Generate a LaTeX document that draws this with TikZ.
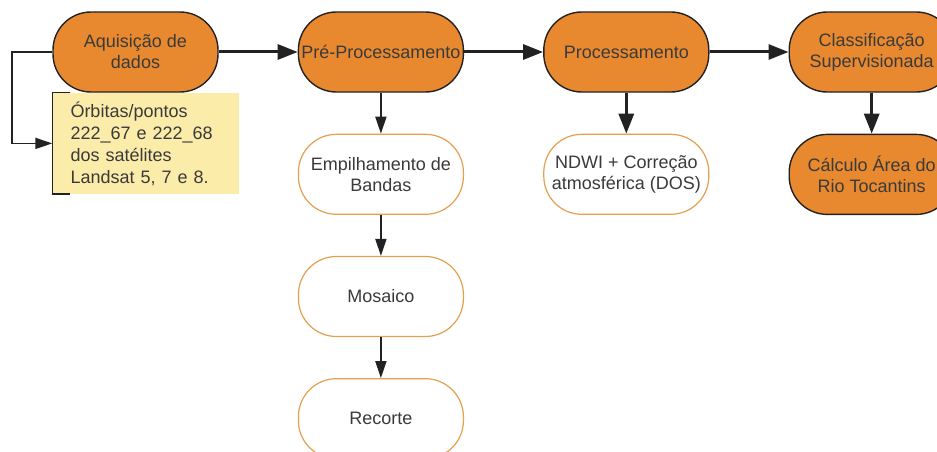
\documentclass[tikz,border=0pt]{standalone}
\usepackage{fontspec}
\setmainfont{Liberation Sans}
\usepackage{xcolor}
\usetikzlibrary{arrows.meta, positioning}

\definecolor{fillorange}{RGB}{232,137,48}
\definecolor{borderorange}{RGB}{228,160,80}
\definecolor{noteyellow}{RGB}{252,236,170}
\definecolor{linedark}{RGB}{34,34,34}
\definecolor{textgray}{RGB}{58,58,58}

\begin{document}
\begin{tikzpicture}[
  x=1pt, y=-1pt,
  node distance=41pt and 79pt,
  every node/.style={font=\fontsize{18}{21}\selectfont, text=textgray},
  stage/.style={rectangle, rounded corners=38pt, draw=linedark, line width=1.4pt,
                minimum width=165pt, minimum height=80pt, align=center,
                inner sep=1pt},
  mainstage/.style={stage, fill=fillorange},
  substage/.style={stage, draw=borderorange, line width=1.2pt, fill=white},
  note/.style={fill=noteyellow, text width=150pt, align=left, inner xsep=18pt,
               minimum height=101pt, font=\fontsize{18}{22}\selectfont},
  bigarrow/.style={-{Triangle[length=20pt,width=15pt]}, line width=3pt,
                   draw=linedark},
  arrow/.style={-{Triangle[length=17pt,width=11pt]}, line width=1.8pt,
                draw=linedark}
]
  \useasboundingbox (0,0) rectangle (937,452);

  \node[mainstage] (aquis) at (135.5,52) {Aquisição de\\dados};
  \node[mainstage, right=of aquis] (prep) {Pré-Processamento};
  \node[mainstage, right=of prep] (proc) {Processamento};
  \node[mainstage, right=of proc] (classif) {Classificação\\Supervisionada};

  \node[note, anchor=north west] (orbitas) at (aquis.south west)
        {Órbitas/pontos\\222\_67 e 222\_68\\dos satélites\\Landsat 5, 7 e 8.};
  \draw[linedark, line width=1.4pt] ([xshift=18pt]orbitas.north west)
        -- (orbitas.north west) -- (orbitas.south west)
        -- ([xshift=18pt]orbitas.south west);

  \node[substage, below=of prep] (empil) {Empilhamento de\\Bandas};
  \node[substage, below=of empil] (mosaico) {Mosaico};
  \node[substage, below=of mosaico] (recorte) {Recorte};
  \node[substage, below=of proc] (ndwi) {NDWI + Correção\\atmosférica (DOS)};
  \node[mainstage, below=of classif] (calculo) {Cálculo Área do\\Rio Tocantins};

  \draw[bigarrow] (aquis) -- (prep);
  \draw[bigarrow] (prep) -- (proc);
  \draw[bigarrow] (proc) -- (classif);
  \draw[arrow] (aquis.west) -- ++(-40,0) |- (orbitas.west);
  \draw[arrow] (prep) -- (empil);
  \draw[arrow] (empil) -- (mosaico);
  \draw[arrow] (mosaico) -- (recorte);
  \draw[bigarrow] (proc) -- (ndwi);
  \draw[bigarrow] (classif) -- (calculo);
\end{tikzpicture}
\end{document}
